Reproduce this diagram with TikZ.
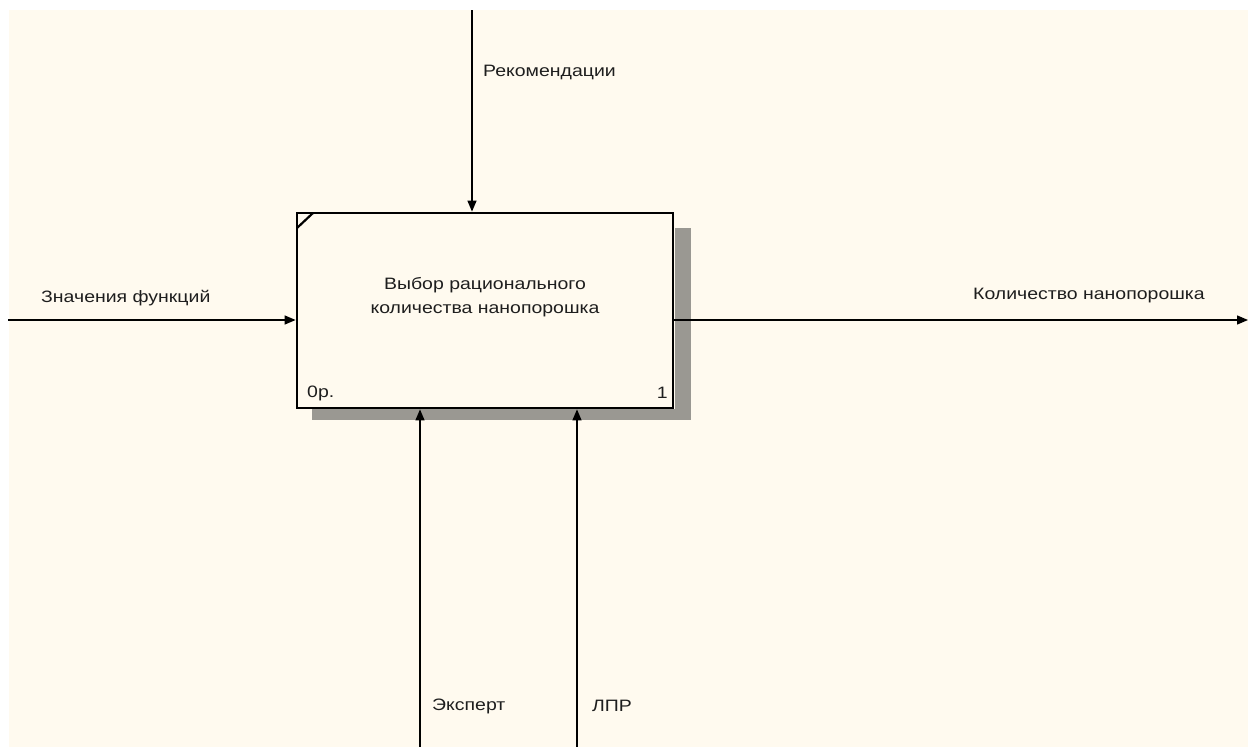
\documentclass[tikz,border=0pt]{standalone}
\usepackage{fontspec}
\setmainfont{Liberation Sans}[FakeStretch=1.18]
\usetikzlibrary{arrows.meta,calc}
\definecolor{bgcream}{HTML}{FFFAEF}
\definecolor{txt}{HTML}{1E1E1E}
\definecolor{shadowgray}{HTML}{9A9892}
\tikzset{
  lbl/.style={anchor=west, inner sep=0pt, text=txt, font=\fontsize{16.5}{24}\selectfont},
  flow/.style={draw=black, line width=1.3pt, -{Triangle[length=11pt,width=9pt]}},
  funcbox/.style={draw=black, line width=2.8pt, fill=bgcream, minimum width=376pt, minimum height=195pt, inner sep=0pt},
  boxtext/.style={inner sep=0pt, align=center, text=txt, font=\fontsize{16.5}{24}\selectfont}
}
\begin{document}
\begin{tikzpicture}[x=1pt,y=-1pt]
\useasboundingbox (0,0) rectangle (1248,747);
\fill[white] (0,0) rectangle (1248,747);
\fill[bgcream] (9,10) rectangle (1248,747);
% shadow
\fill[shadowgray] (675,228) rectangle (691,420);
\fill[shadowgray] (312,409) rectangle (691,420);
% box
\node[funcbox] (box) at (485,310.5) {};
\node[boxtext] (title) at (485,297) {Выбор рационального\\количества нанопорошка};
\coordinate (d1) at (297,228);
\coordinate (d2) at (313,213);
\draw[line width=2.2pt] (d1) -- (d2);
\node[lbl] (num0) at (307,393) {0р.};
\node[lbl, anchor=east] (num1) at (668,393) {1};
% coordinates
\coordinate (ctop) at (472,10);
\coordinate (cin) at (8,320);
\coordinate (cout) at (1248,320);
\coordinate (cm1) at (420,747);
\coordinate (cm2) at (577,747);
% arrows
\draw[flow] (ctop) -- (ctop |- box.north);
\draw[flow] (cin) -- (box.west |- cin);
\draw[flow] (box.east |- cout) -- (cout);
\draw[flow] (cm1) -- (cm1 |- box.south);
\draw[flow] (cm2) -- (cm2 |- box.south);
% labels
\node[lbl] (l1) at (483,72) {Рекомендации};
\node[lbl] (l2) at (41,298) {Значения функций};
\node[lbl] (l3) at (973,296) {Количество нанопорошка};
\node[lbl] (l4) at (432,706) {Эксперт};
\node[lbl] (l5) at (592,706) {ЛПР};
\end{tikzpicture}
\end{document}
